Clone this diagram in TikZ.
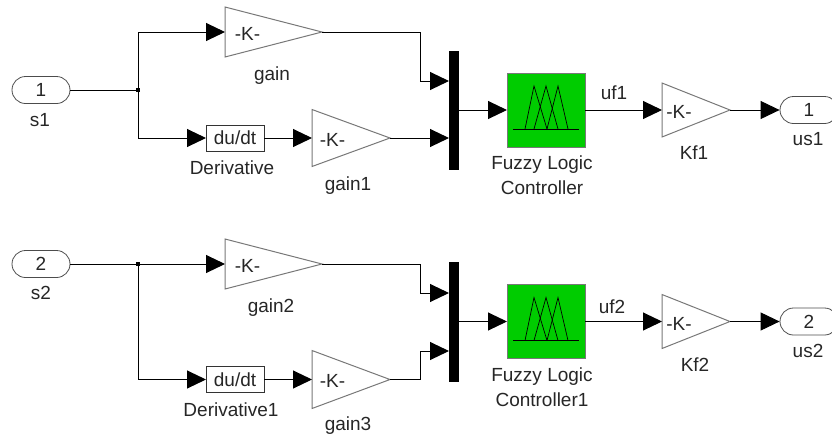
\documentclass[tikz,border=0pt]{standalone}
\usepackage{fontspec}
\setmainfont{Liberation Sans}
\usetikzlibrary{arrows.meta,shapes.geometric,shapes.misc}
\definecolor{fuzzygreen}{RGB}{0,204,0}
\definecolor{edgegray}{RGB}{120,120,120}
\tikzset{
  every node/.style={font=\fontsize{19}{25}\selectfont, text=black!85},
  wire/.style={line width=1pt},
  sig/.style={wire, -{Triangle[length=19pt,width=18pt]}},
  lbl/.style={anchor=base, inner sep=0pt},
  port/.style={rounded rectangle, draw=black!70, line width=0.8pt, minimum width=58pt, minimum height=27pt, inner sep=0pt},
  gainblk/.style={isosceles triangle, isosceles triangle stretches, shape border rotate=0, draw=edgegray, line width=1pt, fill=white, inner sep=0pt, outer sep=0pt, anchor=lower side},
  ddt/.style={rectangle, draw=black!80, line width=1pt, minimum width=58pt, minimum height=26pt, inner sep=0pt, outer sep=0pt},
  muxbar/.style={rectangle, fill=black, minimum width=10pt, inner sep=0pt, outer sep=0pt},
  fuzzy/.style={rectangle, fill=fuzzygreen, draw=edgegray, line width=1pt, minimum width=78pt, minimum height=74pt, inner sep=0pt, outer sep=0pt},
  dot/.style={rectangle, fill=black, minimum size=4pt, inner sep=0pt},
  pics/fuzzyicon/.style={code={
    \draw[line width=0.8pt] (-33,19) -- (33,19);
    \draw[line width=0.7pt] (-21,19) -- (-12,-24) -- (1,19);
    \draw[line width=0.7pt] (-12,19) -- (0,-24) -- (12,19);
    \draw[line width=0.7pt] (1,19) -- (12,-24) -- (22,19);
  }}
}

\begin{document}
\begin{tikzpicture}[x=1pt, y=-1pt]
\clip (0,0) rectangle (832,437);

% upper controller
\node[port] (s1) at (41,90) {1};
\node[dot] (ja) at (138,90) {};
\node[gainblk, minimum width=50pt, minimum height=97pt] (gain) at (225,32) {};
\node[gainblk, minimum width=57pt, minimum height=78pt] (gain1) at (312,138) {};
\node[ddt] (der) at (235,138) {du/dt};
\node[muxbar, minimum height=119pt] (muxa) at (454,110) {};
\node[fuzzy] (flc) at (546,110) {};
\pic at (flc.center) {fuzzyicon};
\node[gainblk, minimum width=54pt, minimum height=68pt] (kf1) at (662,110) {};
\node[port] (us1) at (809,110) {1};
\node[lbl] (kg) at (247.5,40) {-K-};
\node[lbl] (kg1) at (332.5,146) {-K-};
\node[lbl] (kk1) at (679,118) {-K-};

\coordinate (muxa1) at (449,81);
\coordinate (muxa2) at (449,138);
\coordinate (elba) at (420,81);
\coordinate (upa) at (138,32);
\coordinate (loa) at (138,138);

\draw[wire] (s1.east) -- (ja.center);
\draw[sig] (ja.center) -- (upa) -- (gain.lower side);
\draw[sig] (ja.center) -- (loa) -- (der.west);
\draw[sig] (der.east) -- (gain1.lower side);
\draw[sig] (gain.apex) -| (elba) -- (muxa1);
\draw[sig] (gain1.apex) -- (muxa2);
\draw[sig] (muxa.east) -- (flc.west);
\draw[sig] (flc.east) -- (kf1.lower side);
\draw[sig] (kf1.apex) -- (us1.west);

\node[lbl] (ls1) at (40,126) {s1};
\node[lbl] (lgain) at (272,80) {gain};
\node[lbl] (lder) at (232,174) {Derivative};
\node[lbl] (lgain1) at (348,190) {gain1};
\node[lbl, align=center, anchor=center] (lflc) at (542,175) {Fuzzy Logic\\Controller};
\node[lbl] (luf1) at (614,99) {uf1};
\node[lbl] (lkf1) at (694,159) {Kf1};
\node[lbl] (lus1) at (808,145) {us1};

% lower controller
\node[port] (s2) at (41,264) {2};
\node[dot] (jb) at (138,264) {};
\node[gainblk, minimum width=50pt, minimum height=97pt] (gain2) at (225,264) {};
\node[gainblk, minimum width=58pt, minimum height=78pt] (gain3) at (312,379.5) {};
\node[ddt] (der1) at (235,379.5) {du/dt};
\node[muxbar, minimum height=120pt] (muxb) at (454,321.5) {};
\node[fuzzy] (flc1) at (546,321.5) {};
\pic at (flc1.center) {fuzzyicon};
\node[gainblk, minimum width=54pt, minimum height=68pt] (kf2) at (662,321.5) {};
\node[port] (us2) at (809,321.5) {2};
\node[lbl] (kg2) at (247.5,272) {-K-};
\node[lbl] (kg3) at (332.5,387) {-K-};
\node[lbl] (kk2) at (679,330) {-K-};

\coordinate (muxb1) at (449,293);
\coordinate (muxb2) at (449,351);
\coordinate (elbb) at (420,293);
\coordinate (elbc) at (420,351);
\coordinate (lob) at (138,379.5);

\draw[sig] (s2.east) -- (gain2.lower side);
\draw[sig] (jb.center) -- (lob) -- (der1.west);
\draw[sig] (der1.east) -- (gain3.lower side);
\draw[sig] (gain2.apex) -| (elbb) -- (muxb1);
\draw[sig] (gain3.apex) -| (elbc) -- (muxb2);
\draw[sig] (muxb.east) -- (flc1.west);
\draw[sig] (flc1.east) -- (kf2.lower side);
\draw[sig] (kf2.apex) -- (us2.west);

\node[lbl] (ls2) at (41,299) {s2};
\node[lbl] (lgain2) at (271,312) {gain2};
\node[lbl] (lder1) at (231,416) {Derivative1};
\node[lbl] (lgain3) at (348,430) {gain3};
\node[lbl, align=center, anchor=center] (lflc1) at (542,387) {Fuzzy Logic\\Controller1};
\node[lbl] (luf2) at (612,313) {uf2};
\node[lbl] (lkf2) at (695,371) {Kf2};
\node[lbl] (lus2) at (808,357) {us2};
\end{tikzpicture}
\end{document}
